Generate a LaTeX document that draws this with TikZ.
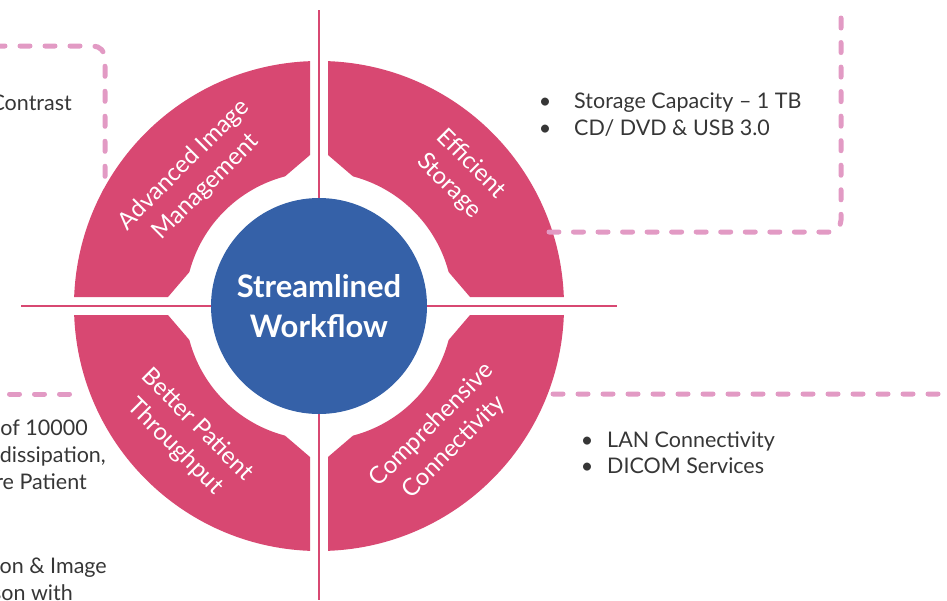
\documentclass[tikz,border=0pt]{standalone}
\usepackage{fontspec}
\setmainfont{Lato}
\definecolor{segpink}{HTML}{D84872}
\definecolor{cblue}{HTML}{3561A8}
\definecolor{dashpink}{HTML}{E29AC4}
\definecolor{txt}{HTML}{363636}
\begin{document}
\begin{tikzpicture}[x=1pt,y=-1pt,
  guide/.style={draw=segpink, line width=1.5pt},
  dashlink/.style={draw=dashpink, line width=5pt, line cap=round, dash pattern=on 10pt off 15pt, rounded corners=12pt},
  body/.style={text=txt, font=\fontsize{21.5}{27}\selectfont, inner sep=0pt},
  seglabel/.style={text=white, font=\fontsize{24}{31}\selectfont, align=center, inner sep=0pt},
  hubstyle/.style={circle, fill=cblue, minimum size=216pt, inner sep=0pt, text=white, align=center, font=\bfseries\fontsize{31}{40}\selectfont},
]
\useasboundingbox (0,0) rectangle (947,600);
\clip (0,0) rectangle (947,600);

% dashed links (behind the ring)
\coordinate (ulS) at (-5,46);
\coordinate (ulK) at (105,46);
\coordinate (ulE) at (105,200);
\draw[dashlink] (ulS) -- (ulK) -- (ulE);

\coordinate (llS) at (69.5,394);
\coordinate (llE) at (-10,394);
\draw[dashlink] (llS) -- (llE);

\coordinate (lrS) at (553,394);
\coordinate (lrK) at (951,394);
\coordinate (lrE) at (951,600);
\draw[dashlink] (lrS) -- (lrK) -- (lrE);

% guide cross
\coordinate (vT) at (319,10);
\coordinate (vB) at (319,600);
\coordinate (hL) at (21,306);
\coordinate (hR) at (617,306);
\draw[guide] (vT) -- (vB);
\draw[guide] (hL) -- (hR);

% ring segments
\begin{scope}[shift={(319,306)}, yscale=-1]
\foreach \r in {0,90,180,270} {
  \fill[segpink, rotate=\r] (9,244.83) -- (9,151) -- (75.3:134)
    arc[start angle=75.3, end angle=14.7, radius=134] -- (151,9) -- (244.83,9)
    arc[start angle=2.1, end angle=87.9, radius=245] -- cycle;
}
\end{scope}

% upper-right dashed link (over the ring edge)
\coordinate (urS) at (841,18);
\coordinate (urK) at (841,232);
\coordinate (urE) at (549,232);
\draw[dashlink, dash pattern=on 10pt off 14.54pt] (urS) -- (urK) -- (urE);

% hub
\node[hubstyle] (hub) at (319,306) {Streamlined\\Workflow};

% segment labels
\node[seglabel, rotate=45] (advlab) at (195,176) {Advanced Image\\Management};
\node[seglabel, rotate=-45] (efflab) at (460,175) {Efficient\\Storage};
\node[seglabel, rotate=-45] (betlab) at (186,436) {Better Patient\\Throughput};
\node[seglabel, rotate=45] (comlab) at (443,436) {Comprehensive\\Connectivity};

% right texts
\node[body, anchor=base] (b1) at (545,108) {•};
\node[body, anchor=base] (b2) at (545,135) {•};
\node[body, anchor=base west] (st1) at (574,108) {Storage Capacity – 1 TB};
\node[body, anchor=base west] (st2) at (574,135) {CD/ DVD \& USB 3.0};
\node[body, anchor=base] (b3) at (587,447) {•};
\node[body, anchor=base] (b4) at (587,473) {•};
\node[body, anchor=base west] (lan) at (607,447) {LAN Connectivity};
\node[body, anchor=base west] (dic) at (607,473) {DICOM Services};

% left texts
\node[body, anchor=base east] (con) at (72,110) {Contrast};
\node[body, anchor=base east] (l1) at (88,435) {of 10000};
\node[body, anchor=base east] (l2) at (106,462) {dissipation,};
\node[body, anchor=base east] (l3) at (87,489) {re Patient};
\node[body, anchor=base east] (l4) at (107,573) {on \& Image};
\node[body, anchor=base east] (l5) at (73,600) {son with};
\end{tikzpicture}
\end{document}
